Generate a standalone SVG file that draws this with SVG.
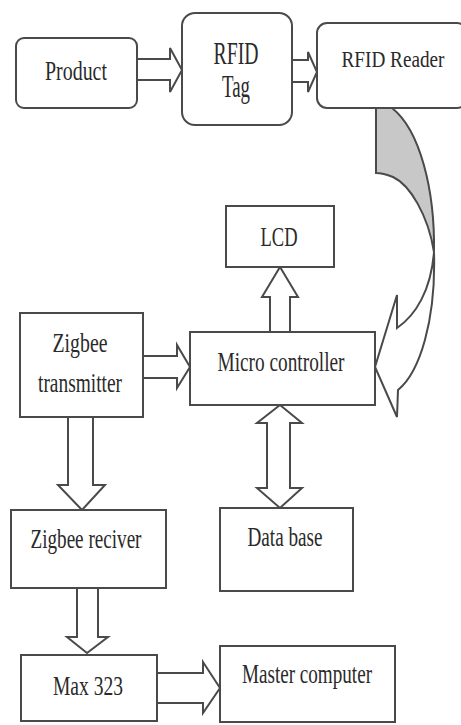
<svg xmlns="http://www.w3.org/2000/svg" width="461" height="725" viewBox="0 0 461 725">
<style>
.box{fill:#fff;stroke:#4a4a4a;stroke-width:2}
.arr{fill:#fff;stroke:#4a4a4a;stroke-width:2;stroke-linejoin:miter}
text{font-family:"Liberation Serif","Times New Roman","DejaVu Serif",serif;fill:#2a2a2a;text-anchor:middle}
</style>
<rect width="461" height="725" fill="#fff"/>
<g id="connectors">
<polygon class="arr" points="137,59 170,59 170,48 182,70 170,92 170,80 137,80"/>
<polygon class="arr" points="292,60 308,60 308,52 317,72 308,92 308,82 292,82"/>
<polygon class="arr" points="270,332 270,297 262,297 280,267 298,297 290,297 290,332"/>
<polygon class="arr" points="143,356 177,356 177,345 190,367 177,388 177,378 143,378"/>
<polygon class="arr" points="68,417 68,485 58,485 82,510 105,485 93,485 93,417"/>
<polygon class="arr" points="77,588 77,637 67,637 87,653 108,637 98,637 98,588"/>
<polygon class="arr" points="157,673 203,673 203,662 220,688 203,713 203,703 157,703"/>
<polygon class="arr" points="280,405 302,423 290,423 290,488 302,488 280,508 257,488 267,488 267,423 257,423"/>
<path d="M376,108 L392,108 C420,130 435,190 434,252 C428,215 410,185 393,177 C388,175 380,173 376,173 Z" fill="#c8c8c8" stroke="#4a4a4a" stroke-width="2"/>
<path d="M434,252 C436,320 420,372 398,390 L397,417 L375,367 L397,295 L397,328 C416,315 431,290 434,252 Z" class="arr"/>
</g>
<g id="product"><rect class="box" x="16" y="38" width="121" height="70" rx="8"/><text x="76" y="80" font-size="27" textLength="62" lengthAdjust="spacingAndGlyphs">Product</text></g>
<g id="rfid-tag"><rect class="box" x="182" y="13" width="110" height="112" rx="13"/><text x="236" y="64" font-size="31" textLength="45" lengthAdjust="spacingAndGlyphs">RFID</text><text x="236" y="97" font-size="31" textLength="28" lengthAdjust="spacingAndGlyphs">Tag</text></g>
<g id="rfid-reader"><rect class="box" x="317" y="23" width="150" height="85" rx="10"/><text x="393" y="67" font-size="23" textLength="103" lengthAdjust="spacingAndGlyphs">RFID Reader</text></g>
<g id="lcd"><rect class="box" x="226" y="206" width="108" height="61"/><text x="279" y="246" font-size="27" textLength="37" lengthAdjust="spacingAndGlyphs">LCD</text></g>
<g id="micro-controller"><rect class="box" x="190" y="332" width="185" height="73"/><text x="281" y="371" font-size="27" textLength="127" lengthAdjust="spacingAndGlyphs">Micro controller</text></g>
<g id="zigbee-transmitter"><rect class="box" x="20" y="313" width="123" height="104"/><text x="80" y="352" font-size="27" textLength="55" lengthAdjust="spacingAndGlyphs">Zigbee</text><text x="80" y="392" font-size="27" textLength="84" lengthAdjust="spacingAndGlyphs">transmitter</text></g>
<g id="zigbee-reciver"><rect class="box" x="11" y="510" width="155" height="78"/><text x="86" y="548" font-size="27" textLength="111" lengthAdjust="spacingAndGlyphs">Zigbee reciver</text></g>
<g id="data-base"><rect class="box" x="220" y="508" width="133" height="83"/><text x="285" y="546" font-size="27" textLength="75" lengthAdjust="spacingAndGlyphs">Data base</text></g>
<g id="max-323"><rect class="box" x="21" y="655" width="136" height="66"/><text x="88" y="695" font-size="27" textLength="70" lengthAdjust="spacingAndGlyphs">Max 323</text></g>
<g id="master-computer"><rect class="box" x="220" y="646" width="175" height="76"/><text x="307" y="683" font-size="27" textLength="130" lengthAdjust="spacingAndGlyphs">Master computer</text></g>
</svg>
